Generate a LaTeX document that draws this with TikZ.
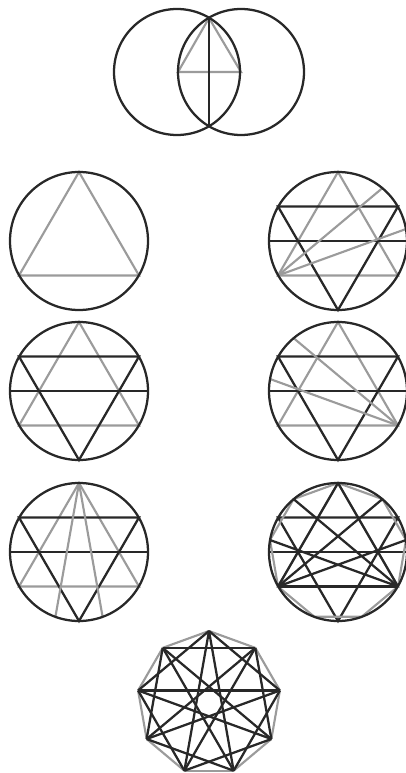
\documentclass[tikz,border=0pt]{standalone}
\usepackage{xcolor}
\usepackage{tikz}
\definecolor{inkdark}{RGB}{40,40,40}
\definecolor{inklight}{RGB}{155,155,155}

\begin{document}
\begin{tikzpicture}[
    x=0.75pt, y=-0.75pt,
    ring/.style={draw=inkdark, line width=1.7pt},
    dark/.style={draw=inkdark, line width=1.7pt},
    light/.style={draw=inklight, line width=1.6pt},
]
    \useasboundingbox (0,0) rectangle (406,773);
    \clip (0,0) rectangle (406,773);

    % vesica
    \coordinate (vtop) at (209,18);
    \coordinate (vbot) at (209,126);
    \coordinate (vleft) at (178,72);
    \coordinate (vright) at (241,72);
    \draw[light] (vtop) -- (vleft) -- (vright) -- cycle;
    \draw[dark] (vtop) -- (vbot);
    \draw[ring] (177,72) circle[radius=63];
    \draw[ring] (241,72) circle[radius=63];

    % upper left: triangle only
    \begin{scope}[shift={(79,241)}]
        \coordinate (ua) at (0,-69);
        \coordinate (ub) at (-60,34.5);
        \coordinate (uc) at (60,34.5);
        \draw[light] (ua) -- (ub) -- (uc) -- cycle;
        \draw[ring] (0,0) circle[radius=69];
    \end{scope}

    % five figures with the two triangles
    \foreach \name/\cx/\cy in {ra/338/241, lb/79/391, rb/338/391, lc/79/552, rc/338/552} {
        \begin{scope}[shift={(\cx,\cy)}]
            \coordinate (\name a) at (0,-69);
            \coordinate (\name b) at (-60,34.5);
            \coordinate (\name c) at (60,34.5);
            \coordinate (\name d) at (0,69);
            \coordinate (\name e) at (-60,-34.5);
            \coordinate (\name f) at (60,-34.5);
            \coordinate (\name g) at (-69,0);
            \coordinate (\name h) at (69,0);
            \coordinate (\name i) at (44.4,-52.9);
            \coordinate (\name j) at (68,-12);
            \coordinate (\name k) at (-44.4,-52.9);
            \coordinate (\name l) at (-68,-12);
            \coordinate (\name m) at (-23.6,64.8);
            \coordinate (\name n) at (23.6,64.8);
            \draw[light] (\name a) -- (\name b) -- (\name c) -- cycle;
            \draw[dark] (\name d) -- (\name e) -- (\name f) -- cycle;
            \draw[dark] (\name g) -- (\name h);
        \end{scope}
    }
    % extra lines
    \draw[light] (rab) -- (rai) (rab) -- (raj);
    \draw[light] (rbc) -- (rbk) (rbc) -- (rbl);
    \draw[light] (lca) -- (lcm) (lca) -- (lcn);
    \draw[light] (rca) -- (rck) -- (rcl) -- (rcb) -- (rcm) -- (rcn) -- (rcc) -- (rcj) -- (rci) -- cycle;
    \draw[dark] (rcb) -- (rci) (rcb) -- (rcj) (rcc) -- (rck) (rcc) -- (rcl);
    \draw[dark] (rca) -- (rcb) (rca) -- (rcc);
    \draw[dark] (rcb) -- (rcc);

    \foreach \cx/\cy in {338/241, 79/391, 338/391, 79/552, 338/552} {
        \draw[ring] (\cx,\cy) circle[radius=69];
    }

    % nine-pointed figure
    \begin{scope}[shift={(209,703)}]
        \foreach \k in {0,...,8} {
            \coordinate (s\k) at ({-90+40*\k}:72);
        }
        \foreach \k [evaluate=\k as \p using {int(mod(\k+1,9))}] in {0,...,8} {
            \draw[light] (s\k) -- (s\p);
        }
        \foreach \k [evaluate=\k as \p using {int(mod(\k+2,9))}, evaluate=\k as \q using {int(mod(\k+4,9))}] in {0,...,8} {
            \draw[dark] (s\k) -- (s\p);
            \draw[dark] (s\k) -- (s\q);
        }
    \end{scope}
\end{tikzpicture}
\end{document}
